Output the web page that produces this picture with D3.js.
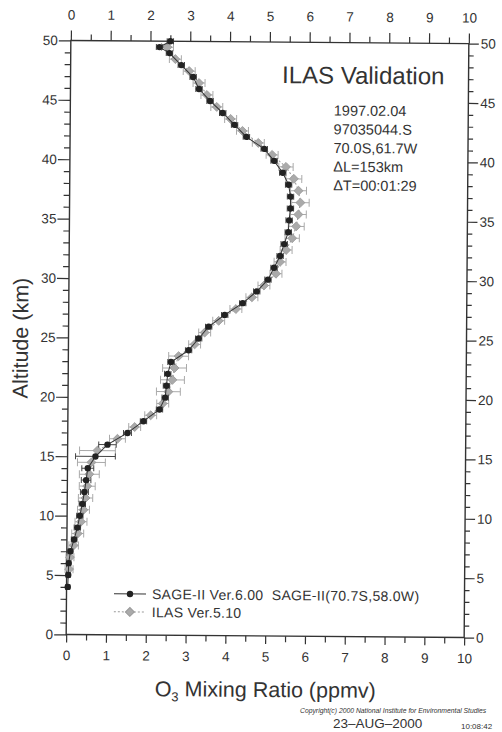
<!DOCTYPE html>
<html>
<head>
<meta charset="utf-8">
<script src="https://d3js.org/d3.v7.min.js"></script>
<style>
body { margin: 0; background: #fff; }
text { font-family: "Liberation Sans", Arial, sans-serif; fill: #333; }
</style>
</head>
<body>
<script>
var w = 502, h = 732;

// SAGE-II Ver.6.00 profile (altitude km, ozone ppmv, error ppmv)
var sageAlt = [4,5,6,7,8,9,10,11,12,13,14,15,16,17,18,19,20,21,22,23,24,25,26,27,28,29,30,31,32,33,34,35,36,37,38,39,40,41,42,43,44,45,46,47,48,49,49.5,50];
var sageO3 = [0.03,0.04,0.05,0.09,0.18,0.26,0.32,0.38,0.43,0.47,0.51,0.7,1.0,1.5,1.9,2.3,2.44,2.47,2.5,2.58,3.02,3.27,3.52,3.92,4.37,4.72,5.0,5.15,5.3,5.4,5.5,5.52,5.55,5.55,5.5,5.35,5.13,4.88,4.43,4.13,3.83,3.51,3.23,3.08,2.78,2.48,2.23,2.5];
var sageErr = [0.05,0.05,0.05,0.06,0.07,0.08,0.08,0.08,0.1,0.12,0.15,0.5,0.22,0.1,0.08,0.08,0.08,0.08,0.08,0.08,0.08,0.08,0.08,0.08,0.08,0.08,0.08,0.08,0.08,0.08,0.08,0.08,0.08,0.08,0.08,0.08,0.08,0.08,0.08,0.08,0.08,0.08,0.08,0.08,0.08,0.08,0.08,0.08];

// ILAS Ver.5.10 profile
var ilasAlt = [5.5,6.5,7.5,8.5,9.5,10.5,11.5,12.5,13.5,14.5,15.5,16.5,17.5,18.5,19.5,20.5,21.5,22.5,23.5,24.5,25.5,26.5,27.5,28.5,29.5,30.5,31.5,32.5,33.5,34.5,35.5,36.5,37.5,38.5,39.5,40.5,41.5,42.5,43.5,44.5,45.5,46.5,47.5,48.5,49.5];
var ilasO3 = [0.06,0.08,0.17,0.27,0.35,0.41,0.46,0.5,0.55,0.6,0.75,1.25,1.68,2.08,2.38,2.52,2.62,2.67,2.77,3.17,3.42,3.77,4.2,4.6,4.9,5.2,5.3,5.45,5.6,5.7,5.75,5.8,5.75,5.63,5.43,5.08,4.73,4.33,4.03,3.68,3.43,3.23,2.98,2.63,2.43];
var ilasErr = [0.1,0.1,0.12,0.15,0.15,0.15,0.18,0.2,0.25,0.35,0.45,0.2,0.15,0.15,0.15,0.3,0.3,0.3,0.25,0.15,0.15,0.15,0.15,0.15,0.15,0.15,0.15,0.15,0.18,0.2,0.2,0.22,0.2,0.2,0.18,0.15,0.15,0.15,0.15,0.15,0.15,0.15,0.15,0.15,0.15];

var xMajor = [0,1,2,3,4,5,6,7,8,9,10];
var xMinor = [0.5,1.5,2.5,3.5,4.5,5.5,6.5,7.5,8.5,9.5];
var yMajor = [0,5,10,15,20,25,30,35,40,45,50];
var yMinor = d3.range(1,50).filter(function(d) { return d % 5 != 0; });

var infoLines = ["1997.02.04", "97035044.S", "70.0S,61.7W", "\u0394L=153km", "\u0394T=00:01:29"];
var legendNames = ["SAGE-II Ver.6.00\u00a0\u00a0SAGE-II(70.7S,58.0W)", "ILAS Ver.5.10"];

var svg = d3.select("body").append("svg")
	.attr("width", w)
	.attr("height", h);

// the scanned page is slightly tilted
var g = svg.append("g").attr("transform", "rotate(0.45,267,339)");

var x = d3.scaleLinear().domain([0,10]).range([68.5,466.5]);
var y = d3.scaleLinear().domain([0,50]).range([636,42]);

function styleAxis(sel) {
	sel.select(".domain").remove();
	sel.selectAll("line").attr("stroke", "#333").attr("stroke-width", 1.2);
	sel.selectAll("text").attr("font-size", 13.5).attr("fill", "#333")
		.attr("font-family", "'Liberation Sans', Arial, sans-serif");
}

// major and minor ticks, four sides
g.append("g").attr("transform", "translate(" + x(0) + ",0)")
	.call(d3.axisLeft(y).tickValues(yMajor).tickSize(12).tickPadding(1)).call(styleAxis);
g.append("g").attr("transform", "translate(" + x(0) + ",0)")
	.call(d3.axisLeft(y).tickValues(yMinor).tickSize(6).tickFormat("")).call(styleAxis);
g.append("g").attr("transform", "translate(" + x(10) + ",0)")
	.call(d3.axisRight(y).tickValues(yMajor).tickSize(10).tickPadding(2)).call(styleAxis);
g.append("g").attr("transform", "translate(" + x(10) + ",0)")
	.call(d3.axisRight(y).tickValues(yMinor).tickSize(5).tickFormat("")).call(styleAxis);
g.append("g").attr("transform", "translate(0," + y(50) + ")")
	.call(d3.axisTop(x).tickValues(xMajor).tickSize(10).tickPadding(11)).call(styleAxis);
g.append("g").attr("transform", "translate(0," + y(50) + ")")
	.call(d3.axisTop(x).tickValues(xMinor).tickSize(6).tickFormat("")).call(styleAxis);
g.append("g").attr("transform", "translate(0," + y(0) + ")")
	.call(d3.axisBottom(x).tickValues(xMajor).tickSize(8).tickPadding(8)).call(styleAxis);
g.append("g").attr("transform", "translate(0," + y(0) + ")")
	.call(d3.axisBottom(x).tickValues(xMinor).tickSize(6).tickFormat("")).call(styleAxis);

g.append("rect")
	.attr("x", x(0)).attr("y", y(50))
	.attr("width", x(10) - x(0)).attr("height", y(0) - y(50))
	.attr("fill", "none").attr("stroke", "#333").attr("stroke-width", 1.4);

var ilas = ilasAlt.map(function(a, i) { return {a: a, v: ilasO3[i], e: ilasErr[i]}; });
var sage = sageAlt.map(function(a, i) { return {a: a, v: sageO3[i], e: sageErr[i]}; });

var line = d3.line().x(function(d) { return x(d.v); }).y(function(d) { return y(d.a); });

// ILAS (gray)
g.append("path").datum(ilas).attr("d", line)
	.attr("fill", "none").attr("stroke", "#999").attr("stroke-width", 1).attr("stroke-dasharray", "2,2");

function errorBars(data, color, cap) {
	var eg = g.append("g").attr("stroke", color).attr("stroke-width", 1);
	eg.selectAll(".eb").data(data).enter().append("line")
		.attr("x1", function(d) { return x(d.v - d.e); })
		.attr("x2", function(d) { return x(d.v + d.e); })
		.attr("y1", function(d) { return y(d.a); })
		.attr("y2", function(d) { return y(d.a); });
	eg.selectAll(".cl").data(data).enter().append("line")
		.attr("x1", function(d) { return x(d.v - d.e); })
		.attr("x2", function(d) { return x(d.v - d.e); })
		.attr("y1", function(d) { return y(d.a) - cap; })
		.attr("y2", function(d) { return y(d.a) + cap; });
	eg.selectAll(".cr").data(data).enter().append("line")
		.attr("x1", function(d) { return x(d.v + d.e); })
		.attr("x2", function(d) { return x(d.v + d.e); })
		.attr("y1", function(d) { return y(d.a) - cap; })
		.attr("y2", function(d) { return y(d.a) + cap; });
}

errorBars(ilas, "#aaa", 4);
g.append("g").selectAll("path").data(ilas).enter().append("path")
	.attr("d", d3.symbol().type(d3.symbolSquare).size(40))
	.attr("transform", function(d) { return "translate(" + x(d.v) + "," + y(d.a) + ") rotate(45)"; })
	.attr("fill", "#aaa").attr("stroke", "#999").attr("stroke-width", 0.8);

// SAGE-II (dark)
g.append("path").datum(sage).attr("d", line)
	.attr("fill", "none").attr("stroke", "#333").attr("stroke-width", 1);
errorBars(sage, "#444", 3);
g.append("g").selectAll("circle").data(sage).enter().append("circle")
	.attr("cx", function(d) { return x(d.v); })
	.attr("cy", function(d) { return y(d.a); })
	.attr("r", 3.2)
	.attr("fill", "#222");

// title and info
g.append("text").text("ILAS Validation")
	.attr("x", 280).attr("y", 83).attr("font-size", 24);
g.append("g").selectAll("text").data(infoLines).enter().append("text")
	.text(function(d) { return d; })
	.attr("x", 332)
	.attr("y", function(d, i) { return 115 + i * 18.7; })
	.attr("font-size", 14.5);

// legend
var lg = g.append("g");
lg.append("line").attr("x1", 116).attr("x2", 148).attr("y1", 595).attr("y2", 595)
	.attr("stroke", "#333").attr("stroke-width", 1);
lg.append("circle").attr("cx", 132).attr("cy", 595).attr("r", 3.2).attr("fill", "#222");
lg.append("line").attr("x1", 116).attr("x2", 148).attr("y1", 613).attr("y2", 613)
	.attr("stroke", "#999").attr("stroke-width", 1).attr("stroke-dasharray", "2,2");
lg.append("path").attr("d", d3.symbol().type(d3.symbolSquare).size(40))
	.attr("transform", "translate(132,613) rotate(45)")
	.attr("fill", "#aaa").attr("stroke", "#999");
lg.selectAll("text").data(legendNames).enter().append("text")
	.text(function(d) { return d; })
	.attr("x", 154)
	.attr("y", function(d, i) { return 600 + i * 18; })
	.attr("font-size", 14)
	.attr("letter-spacing", 0.3);

// axis titles
var xt = g.append("text").attr("x", 268).attr("y", 697).attr("text-anchor", "middle").attr("font-size", 21.5);
xt.append("tspan").text("O");
xt.append("tspan").text("3").attr("font-size", 13).attr("dy", 5);
xt.append("tspan").text(" Mixing Ratio (ppmv)").attr("dy", -5);

g.append("text").text("Altitude (km)")
	.attr("transform", "translate(28,340) rotate(-90)")
	.attr("text-anchor", "middle").attr("font-size", 21.5);

// footer
svg.append("text").text("Copyright(c) 2000 National Institute for Environmental Studies")
	.attr("x", 300).attr("y", 713)
	.attr("font-family", "'Liberation Serif', serif").attr("font-style", "italic")
	.attr("font-size", 6.8);
svg.append("text").text("23\u2013AUG\u20132000")
	.attr("x", 333).attr("y", 728)
	.attr("font-size", 13.5);
svg.append("text").text("10:08:42")
	.attr("x", 461).attr("y", 729).attr("font-size", 8);
</script>
</body>
</html>
